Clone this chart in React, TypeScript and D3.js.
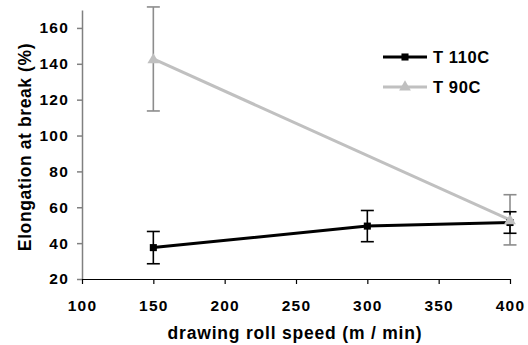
import React, { useEffect, useRef } from 'react';
import * as d3 from 'd3';

const speeds = [150, 300, 400];
const t110 = [37.5, 49.5, 51.5];
const t110Err = [9, 8.7, 6];
const t90 = [142.7, 0, 53];
const t90Err = [29, 0, 14];
const xTicks = [100, 150, 200, 250, 300, 350, 400];
const yTicks = [20, 40, 60, 80, 100, 120, 140, 160];
const seriesNames = ['T 110C', 'T 90C'];

const App: React.FC = () => {
  const width = 528;
  const height = 345;
  const svgRef = useRef<SVGSVGElement>(null);

  useEffect(() => {
    if (!svgRef.current) return;
    const svg = d3.select(svgRef.current);
    svg.selectAll('*').remove();

    const x = d3.scaleLinear().domain([100, 400]).range([82, 510]);
    const y = d3.scaleLinear().domain([20, 170]).range([279, 10]);
    const font = '"Liberation Sans", Arial, sans-serif';

    // y axis
    const yAxis = svg.append('g')
      .attr('transform', 'translate(82,0)')
      .call(d3.axisLeft(y).tickValues(yTicks).tickSize(5).tickSizeOuter(0));
    yAxis.select('.domain').attr('stroke', '#808080').attr('stroke-width', 1.5);
    yAxis.selectAll('.tick line').attr('stroke', '#808080').attr('stroke-width', 1.5);
    yAxis.selectAll('.tick text')
      .attr('font-family', font).attr('font-size', 15.5).attr('font-weight', 'bold')
      .attr('letter-spacing', 1.2)
      .attr('fill', '#000').attr('x', -13);

    // x axis
    const xAxis = svg.append('g')
      .attr('transform', 'translate(0,279)')
      .call(d3.axisBottom(x).tickValues(xTicks).tickSize(5).tickSizeOuter(0));
    xAxis.select('.domain').attr('stroke', '#000').attr('stroke-width', 1.2);
    xAxis.selectAll('.tick line').attr('stroke', '#000').attr('stroke-width', 1.2);
    xAxis.selectAll('.tick text')
      .attr('font-family', font).attr('font-size', 15.5).attr('font-weight', 'bold')
      .attr('letter-spacing', 1.2)
      .attr('fill', '#000').attr('y', 32).attr('dy', 0);

    const line = d3.line<[number, number]>().x(d => x(d[0])).y(d => y(d[1]));

    const errBars = (vals: number[], errs: number[], idx: number[], color: string) => {
      idx.forEach(i => {
        const cx = x(speeds[i]);
        const g = svg.append('g').attr('stroke', color).attr('stroke-width', 1.6);
        g.append('line').attr('x1', cx).attr('x2', cx)
          .attr('y1', y(vals[i] + errs[i])).attr('y2', y(vals[i] - errs[i]));
        [vals[i] + errs[i], vals[i] - errs[i]].forEach(v => {
          g.append('line').attr('x1', cx - 6.5).attr('x2', cx + 6.5).attr('y1', y(v)).attr('y2', y(v));
        });
      });
    };

    // T 90C
    const t90Pts: [number, number][] = [[speeds[0], t90[0]], [speeds[2], t90[2]]];
    errBars(t90, t90Err, [0, 2], '#8c8c8c');
    svg.append('path').datum(t90Pts).attr('d', line)
      .attr('fill', 'none').attr('stroke', '#c0c0c0').attr('stroke-width', 3);

    // T 110C
    errBars(t110, t110Err, [0, 1, 2], '#000');
    const t110Pts: [number, number][] = speeds.map((s, i) => [s, t110[i]]);
    svg.append('path').datum(t110Pts).attr('d', line)
      .attr('fill', 'none').attr('stroke', '#000').attr('stroke-width', 3);

    const tri = d3.symbol().type(d3.symbolTriangle).size(60);
    const sq = d3.symbol().type(d3.symbolSquare).size(50);

    t110Pts.forEach(p => {
      svg.append('path').attr('d', sq).attr('fill', '#000')
        .attr('transform', `translate(${x(p[0])},${y(p[1])})`);
    });
    t90Pts.forEach(p => {
      svg.append('path').attr('d', tri).attr('fill', '#c0c0c0')
        .attr('transform', `translate(${x(p[0])},${y(p[1]) + 1})`);
    });

    // legend
    const legend = [
      { name: seriesNames[0], color: '#000', sym: sq, y: 57 },
      { name: seriesNames[1], color: '#c0c0c0', sym: tri, y: 87 },
    ];
    legend.forEach(l => {
      svg.append('line').attr('x1', 383).attr('x2', 427).attr('y1', l.y).attr('y2', l.y)
        .attr('stroke', l.color).attr('stroke-width', 3);
      svg.append('path').attr('d', l.sym).attr('fill', l.color)
        .attr('transform', `translate(405,${l.y})`);
      svg.append('text').attr('x', 433).attr('y', l.y + 5.5)
        .attr('font-family', font).attr('font-size', 16.5).attr('font-weight', 'bold')
        .attr('letter-spacing', 0.6)
        .text(l.name);
    });

    // axis titles
    svg.append('text')
      .attr('transform', 'translate(31,147) rotate(-90)')
      .attr('text-anchor', 'middle')
      .attr('font-family', font).attr('font-size', 17.5).attr('font-weight', 'bold')
      .attr('letter-spacing', 0.6)
      .text('Elongation at break (%)');
    svg.append('text')
      .attr('x', 295).attr('y', 339)
      .attr('text-anchor', 'middle')
      .attr('font-family', font).attr('font-size', 17.5).attr('font-weight', 'bold')
      .attr('letter-spacing', 0.8)
      .text('drawing roll speed (m / min)');
  }, []);

  return (
    <svg ref={svgRef} width={width} height={height}
      style={{ position: 'absolute', left: 0, top: 0, background: '#fff' }} />
  );
};

export default App;
